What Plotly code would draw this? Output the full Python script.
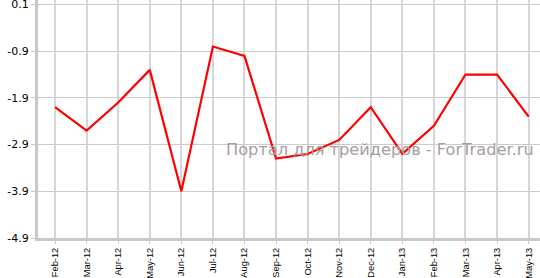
import plotly.graph_objects as go

months = ["Feb-12", "Mar-12", "Apr-12", "May-12", "Jun-12", "Jul-12", "Aug-12", "Sep-12",
          "Oct-12", "Nov-12", "Dec-12", "Jan-13", "Feb-13", "Mar-13", "Apr-13", "May-13"]
values = [-2.1, -2.6, -2.0, -1.3, -3.9, -0.8, -1.0, -3.2,
          -3.1, -2.8, -2.1, -3.1, -2.5, -1.4, -1.4, -2.3]
y_ticks = [0.1, -0.9, -1.9, -2.9, -3.9, -4.9]
y_labels = ["0.1", "-0.9", "-1.9", "-2.9", "-3.9", "-4.9"]
watermark = "Портал для трейдеров - ForTrader.ru"

fig = go.Figure()
fig.add_trace(go.Scatter(x=months, y=values, mode="lines",
                         line=dict(color="#ff0000", width=2.2), hoverinfo="skip"))

fig.update_layout(
    width=540, height=278,
    margin=dict(l=38, r=0, t=0, b=40),
    plot_bgcolor="white", paper_bgcolor="white",
    showlegend=False,
    annotations=[dict(text=watermark, xref="paper", yref="paper", x=0.3705, y=0.37,
                      xanchor="left", yanchor="middle", showarrow=False,
                      font=dict(family="DejaVu Sans", size=16.2, color="#a79d9d"))],
)
fig.update_xaxes(
    type="category", range=[-0.54, 15.36], automargin=False,
    showgrid=True, gridcolor="#d6d6d6", gridwidth=1.5,
    showline=True, linecolor="#c8c8c8", linewidth=3,
    ticks="outside", ticklen=3, tickcolor="#c8c8c8", tickwidth=1,
    tickangle=-90, tickfont=dict(family="Liberation Sans, Arial", size=9.3, color="#000"),
    ticklabelstandoff=0,
    zeroline=False,
)
fig.update_yaxes(
    range=[-4.9, 0.196], automargin=False,
    tickvals=y_ticks, ticktext=y_labels,
    showgrid=True, gridcolor="#cccccc", gridwidth=1,
    showline=True, linecolor="#c8c8c8", linewidth=3,
    ticks="outside", ticklen=4, tickcolor="#c8c8c8", tickwidth=1,
    tickfont=dict(family="DejaVu Sans", size=11, color="#000"),
    ticklabeloverflow="allow",
    zeroline=False,
)
fig.write_html("out.html")
